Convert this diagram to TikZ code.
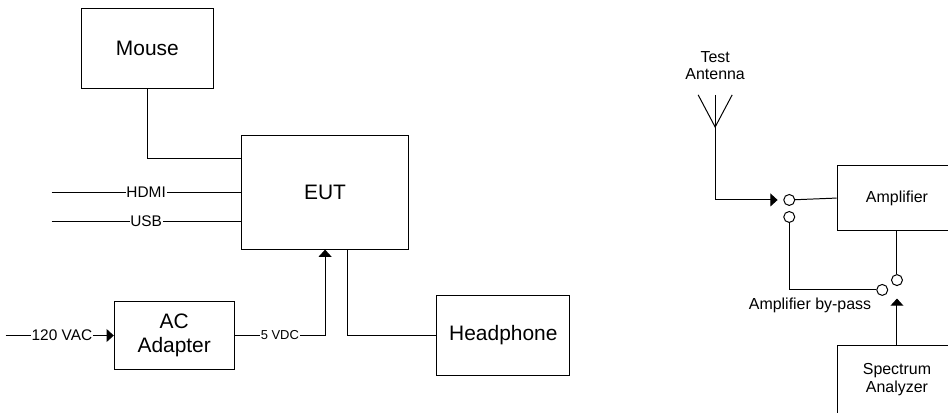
\documentclass[tikz,border=0pt]{standalone}
\usepackage{fontspec}
\setmainfont{Liberation Sans}
\usetikzlibrary{arrows.meta, positioning}
\tikzset{
  unit/.style={rectangle, draw=black, line width=0.75pt, align=center,
    font=\fontsize{15.75}{18}\selectfont},
  smallunit/.style={rectangle, draw=black, line width=0.75pt, align=center, minimum width=3.17cm,
    font=\fontsize{12}{13.5}\selectfont},
  tap/.style={circle, draw=black, line width=0.75pt, minimum size=0.29cm, inner sep=0pt},
  wire/.style={line width=0.75pt, black},
  feed/.style={-{Triangle[length=1.9mm, width=3.4mm]}, line width=0.75pt, black},
  tag/.style={fill=white, inner sep=0.5pt, font=\fontsize{11.6}{13}\selectfont},
  smalltag/.style={fill=white, inner sep=0.5pt, font=\fontsize{9.75}{12}\selectfont},
  caption/.style={inner sep=0pt, align=center, font=\fontsize{12}{13}\selectfont},
}
\begin{document}
\begin{tikzpicture}
    \useasboundingbox (0,0) rectangle (25.08,10.90);

    \node[unit, minimum width=4.44cm, minimum height=3.00cm] (eut) at (8.60,5.81) {EUT};
    \node[unit, minimum width=3.49cm, minimum height=2.12cm, above left=1.21cm and 0.71cm of eut] (mouse) {Mouse};
    \node[unit, minimum width=3.17cm, minimum height=1.80cm, below left=1.36cm and 0.16cm of eut] (adapter) {AC\\Adapter};
    \node[unit, minimum width=3.52cm, minimum height=2.12cm, below right=1.20cm and 0.71cm of eut] (headphone) {Headphone};

    \coordinate (mousein) at ([yshift=0.90cm]eut.west);
    \coordinate (usbin) at ([yshift=-0.77cm]eut.west);
    \coordinate[left=5cm of eut.west] (hdmifree);
    \coordinate[left=5cm of usbin] (usbfree);
    \coordinate[left=2.86cm of adapter.west] (acfree);

    \draw[wire] (mouse.south) |- (mousein);
    \draw[wire] (hdmifree) -- node[tag] {HDMI} (eut.west);
    \draw[wire] (usbfree) -- node[tag] {USB} (usbin);
    \draw[feed] (acfree) -- node[tag, pos=0.52] {120 VAC} (adapter.west);
    \draw[feed] (adapter.east) -| node[smalltag, pos=0.25] {5 VDC} (eut.south);
    \draw[wire] ([xshift=0.58cm]eut.south) |- (headphone.west);

    \node[smallunit, minimum height=1.72cm] (amp) at (23.73,5.66) {Amplifier};
    \node[smallunit, minimum height=1.80cm, below=3.02cm of amp] (specan) {Spectrum\\Analyzer};

    \node[tap] (swa) at (20.88,5.61) {};
    \node[tap] (swb) at (20.88,5.16) {};
    \node[tap] (swc) at (23.34,3.23) {};
    \node[tap] (swd) at (23.73,3.49) {};

    \coordinate (antbase) at (18.92,7.54);
    \coordinate (anttop) at (18.92,8.39);
    \coordinate (antleft) at (18.47,8.39);
    \coordinate (antright) at (19.37,8.39);
    \coordinate[left=0.15cm of swa] (swain);
    \coordinate[below=0.33cm of swd] (swdin);

    \node[caption, above=0.40cm of anttop] (antname) {Test\\Antenna};
    \node[caption] (bypass) at (21.43,2.83) {Amplifier by-pass};

    \draw[wire] (antleft) -- (antbase) -- (antright);
    \draw[wire] (anttop) -- (antbase);
    \draw[feed] (antbase) |- (swain);
    \draw[wire] (swa) -- (amp.west);
    \draw[wire] (swb) |- (swc);
    \draw[wire] (amp.south) -- (swd);
    \draw[feed] (specan.north) -- (swdin);
\end{tikzpicture}
\end{document}
